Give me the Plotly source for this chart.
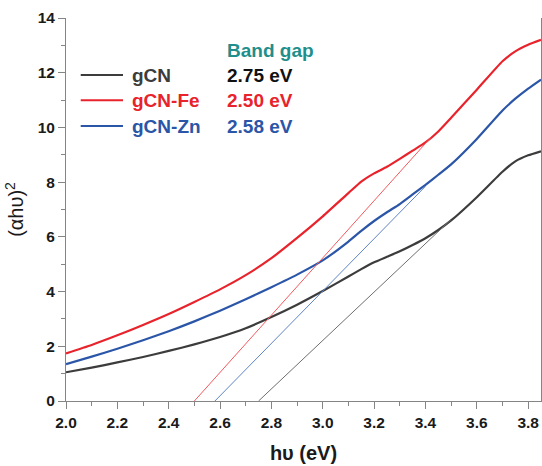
import plotly.graph_objects as go

# Photon energy grid (eV)
energy = [2.00, 2.10, 2.20, 2.30, 2.40, 2.50, 2.60, 2.70, 2.80, 2.90, 3.00,
          3.10, 3.15, 3.20, 3.25, 3.30, 3.35, 3.40, 3.45, 3.50, 3.60, 3.70,
          3.75, 3.80, 3.85]

# Tauc plot values (αhυ)^2
gcn = [1.05, 1.22, 1.41, 1.61, 1.83, 2.07, 2.34, 2.66, 3.07, 3.52, 4.02,
       4.55, 4.82, 5.07, 5.27, 5.47, 5.70, 5.95, 6.25, 6.60, 7.45, 8.38,
       8.76, 8.98, 9.13]
gcn_fe = [1.74, 2.05, 2.40, 2.78, 3.18, 3.62, 4.08, 4.60, 5.22, 5.96, 6.75,
          7.60, 8.02, 8.32, 8.56, 8.85, 9.15, 9.45, 9.85, 10.35, 11.38, 12.42,
          12.78, 13.02, 13.20]
gcn_zn = [1.35, 1.62, 1.91, 2.22, 2.55, 2.91, 3.30, 3.72, 4.16, 4.62, 5.14,
          5.83, 6.22, 6.58, 6.90, 7.20, 7.55, 7.90, 8.27, 8.65, 9.58, 10.62,
          11.05, 11.42, 11.75]

# Linear extrapolations: band gap (x-intercept), slope, end of fit
names = ["gCN", "gCN-Fe", "gCN-Zn"]
band_gaps = [2.75, 2.50, 2.58]
fit_slopes = [8.85, 10.46, 9.57]
fit_ends = [3.50, 3.42, 3.40]

curve_colors = ["#3c3c3c", "#e8232b", "#2b56a8"]
fit_colors = ["#6e6e6e", "#f05a5f", "#5f84c6"]
value_colors = ["#111111", "#e8232b", "#2b56a8"]

x_ticks = [2.0, 2.2, 2.4, 2.6, 2.8, 3.0, 3.2, 3.4, 3.6, 3.8]
y_ticks = [0, 2, 4, 6, 8, 10, 12, 14]

fig = go.Figure()

for i, ys in enumerate([gcn, gcn_fe, gcn_zn]):
    fig.add_trace(go.Scatter(
        x=energy, y=ys, mode="lines",
        line=dict(color=curve_colors[i], width=2.2, shape="spline", smoothing=0.5),
        showlegend=False, hoverinfo="skip"))

for i in range(3):
    x0, x1 = band_gaps[i], fit_ends[i]
    fig.add_trace(go.Scatter(
        x=[x0, x1], y=[0, fit_slopes[i] * (x1 - x0)], mode="lines",
        line=dict(color=fit_colors[i], width=1),
        showlegend=False, hoverinfo="skip"))

FONT = "Liberation Sans, Arial, sans-serif"

# Custom legend with band gap values
row_y = [0.851, 0.785, 0.718]
for i in range(3):
    fig.add_shape(type="line", xref="paper", yref="paper",
                  x0=0.031, x1=0.120, y0=row_y[i], y1=row_y[i],
                  line=dict(color=curve_colors[i], width=2))
    fig.add_annotation(xref="paper", yref="paper", x=0.135, y=row_y[i],
                       xanchor="left", yanchor="middle", showarrow=False,
                       text="<b>%s</b>" % names[i],
                       font=dict(family=FONT, size=19, color=curve_colors[i]))
    fig.add_annotation(xref="paper", yref="paper", x=0.334, y=row_y[i],
                       xanchor="left", yanchor="middle", showarrow=False,
                       text="<b>%.2f eV</b>" % band_gaps[i],
                       font=dict(family=FONT, size=19, color=value_colors[i]))
fig.add_annotation(xref="paper", yref="paper", x=0.334, y=0.916,
                   xanchor="left", yanchor="middle", showarrow=False,
                   text="<b>Band gap</b>",
                   font=dict(family=FONT, size=19, color="#1f8f8c"))

axis_common = dict(
    showgrid=False, zeroline=False, showline=True, linecolor="#858585", linewidth=1,
    ticks="outside", ticklen=7, tickcolor="#858585", tickwidth=1,
    tickfont=dict(family=FONT, size=15.5, color="#1a1a1a"),
)

fig.update_xaxes(
    range=[2.0, 3.85], tickvals=x_ticks, ticktext=["<b>%.1f</b>" % v for v in x_ticks],
    minor=dict(ticks="outside", ticklen=4, tickcolor="#858585", dtick=0.1, tick0=2.0),
    title=dict(text="<b>hυ (eV)</b>", font=dict(family=FONT, size=20, color="#1a1a1a"),
               standoff=16),
    **axis_common)
fig.update_yaxes(
    range=[0, 14], tickvals=y_ticks, ticktext=["<b>%d</b>" % v for v in y_ticks],
    mirror=True,
    minor=dict(ticks="outside", ticklen=4, tickcolor="#858585", dtick=1, tick0=0),
    title=dict(text="(αhυ)<sup>2</sup>", font=dict(family=FONT, size=20, color="#1a1a1a"),
               standoff=8),
    **axis_common)

fig.update_layout(
    width=542, height=466,
    margin=dict(l=66, r=1, t=18, b=65),
    paper_bgcolor="white", plot_bgcolor="white",
)

fig.write_html("out.html")
